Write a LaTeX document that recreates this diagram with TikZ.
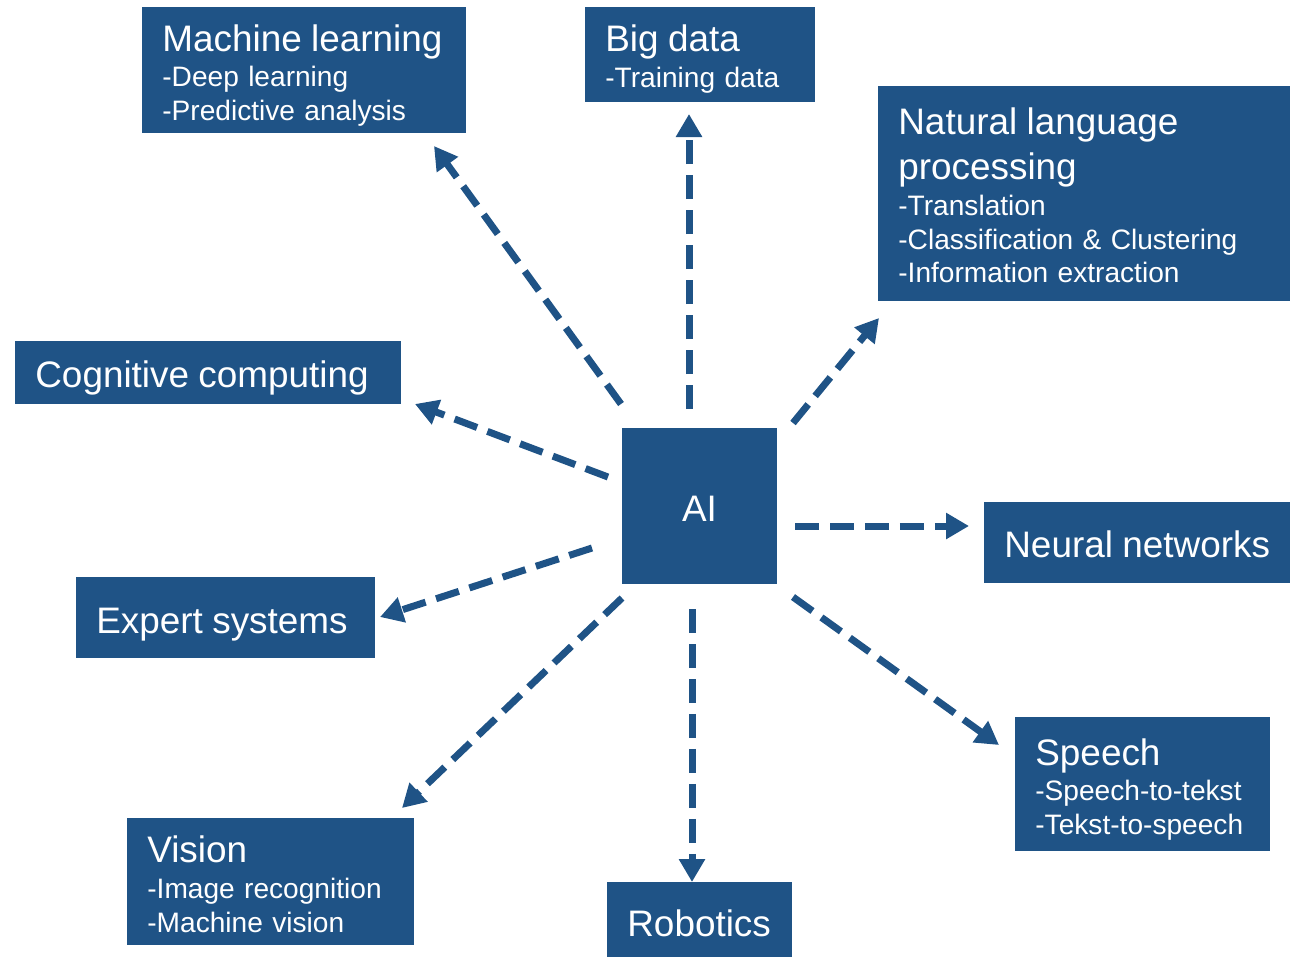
\documentclass[tikz,border=0pt]{standalone}
\usepackage{fontspec}
\setmainfont{Liberation Sans}
\usetikzlibrary{arrows.meta}
\definecolor{aiblue}{RGB}{31,83,134}
\newcommand{\ttl}[1]{{\fontsize{21}{25}\selectfont #1}}
\newcommand{\strutto}[1]{\rule{0pt}{#1}}

\begin{document}
\begin{tikzpicture}[x=0.02cm,y=-0.02cm,
		topic/.style={fill=aiblue,text=white,anchor=north west,align=left,inner xsep=0.4cm,inner ysep=0pt,font=\fontsize{16}{19.3}\selectfont},
		link/.style={aiblue,line width=0.14cm,dash pattern=on 0.48cm off 0.22cm,-{Triangle[length=0.46cm,width=0.5cm]}}]
		%%%%% START %%%%%
		\useasboundingbox (0,0) rectangle (1291,958);
		
		\node[fill=aiblue,text=white,minimum width=3.1cm,minimum height=3.12cm,inner sep=0pt,font=\fontsize{21}{25}\selectfont] (ai) at (699.5,506) {\strutto{17.2pt}AI};
		
		\node[topic,text width=5.68cm,minimum height=2.52cm] (ml) at (142,7) {\strutto{21pt}\ttl{Machine~learning}\\[0.9pt]-Deep learning\\-Predictive analysis};
		\node[topic,text width=3.8cm,minimum height=1.9cm] (bigdata) at (585,7) {\strutto{19.9pt}\ttl{Big data}\\[0.9pt]-Training data};
		\node[topic,text width=7.44cm,minimum height=4.3cm] (nlp) at (878,86) {\strutto{17pt}\ttl{Natural language}\\[5.4pt]\ttl{processing}\\[0.7pt]-Translation\\-Classification \& Clustering\\-Information extraction};
		\node[topic,text width=6.92cm,minimum height=1.26cm] (cognitive) at (15,341) {\strutto{21pt}\ttl{Cognitive~computing}};
		\node[topic,text width=5.32cm,minimum height=1.62cm] (neural) at (984,502) {\strutto{16.4pt}\ttl{Neural~networks}};
		\node[topic,text width=5.18cm,minimum height=1.62cm] (expert) at (76,577) {\strutto{22.1pt}\ttl{Expert~systems}};
		\node[topic,text width=4.3cm,minimum height=2.68cm] (speech) at (1015,717) {\strutto{21pt}\ttl{Speech}\\[0.9pt]-Speech-to-tekst\\-Tekst-to-speech};
		\node[topic,text width=4.94cm,minimum height=2.54cm] (vision) at (127,818) {\strutto{18.1pt}\ttl{Vision}\\[0.9pt]-Image recognition\\-Machine vision};
		\node[topic,text width=2.9cm,minimum height=1.5cm] (robotics) at (607,882) {\strutto{18.7pt}\ttl{Robotics}};
		
		% arrow ends
		\coordinate (ml-from) at (621,404);
		\coordinate (ml-to) at (434,146);
		\coordinate (bigdata-from) at (689,409);
		\coordinate (bigdata-to) at (689,114);
		\coordinate (nlp-from) at (793,423);
		\coordinate (nlp-to) at (879,318);
		\coordinate (cognitive-from) at (608,477);
		\coordinate (cognitive-to) at (415,404);
		\coordinate (neural-from) at (795,526);
		\coordinate (neural-to) at (969,526);
		\coordinate (expert-from) at (592,548);
		\coordinate (expert-to) at (380,617);
		\coordinate (vision-from) at (622,598);
		\coordinate (vision-to) at (402,808);
		\coordinate (robotics-from) at (692,609);
		\coordinate (robotics-to) at (692,882);
		\coordinate (speech-from) at (793,597);
		\coordinate (speech-to) at (999,745);
		
		\draw[link] (ml-from) -- (ml-to);
		\draw[link] (bigdata-from) -- (bigdata-to);
		\draw[link] (nlp-from) -- (nlp-to);
		\draw[link] (cognitive-from) -- (cognitive-to);
		\draw[link] (neural-from) -- (neural-to);
		\draw[link] (expert-from) -- (expert-to);
		\draw[link] (vision-from) -- (vision-to);
		\draw[link] (robotics-from) -- (robotics-to);
		\draw[link] (speech-from) -- (speech-to);
		%%%%% END %%%%%
	\end{tikzpicture}
\end{document}
